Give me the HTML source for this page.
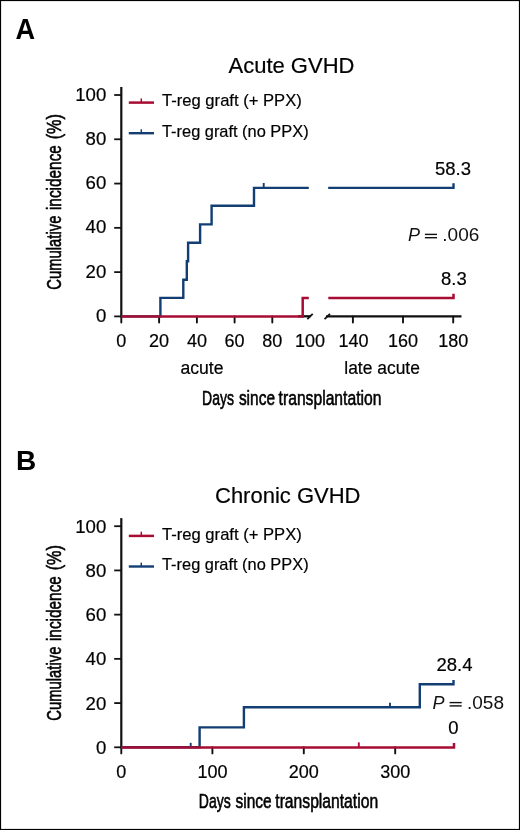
<!DOCTYPE html>
<html><head><meta charset="utf-8"><style>
html,body{margin:0;padding:0;background:#fff;}
body{width:520px;height:830px;overflow:hidden;}
svg{display:block;font-family:"Liberation Sans", sans-serif;will-change:transform;}
</style></head><body>
<svg width="520" height="830" viewBox="0 0 520 830">
<rect x="0.55" y="0.55" width="518.9" height="828.9" fill="none" stroke="#000" stroke-width="1.1"/>
<text x="15.6" y="39" font-size="29" font-weight="bold" fill="#000" textLength="19.6" lengthAdjust="spacingAndGlyphs">A</text>
<text x="16" y="470" font-size="28" font-weight="bold" fill="#000">B</text>
<text x="228.5" y="73" font-size="22" text-anchor="start" fill="#000" stroke="#000" stroke-width="0.2">Acute GVHD</text>
<line x1="121.3" y1="87" x2="121.3" y2="317.4" stroke="#111" stroke-width="2.2"/>
<line x1="114.2" y1="316.40" x2="121" y2="316.40" stroke="#111" stroke-width="1.8"/>
<text x="106.3" y="322.00" font-size="18.6" text-anchor="end" fill="#000" stroke="#000" stroke-width="0.2">0</text>
<line x1="114.2" y1="272.12" x2="121" y2="272.12" stroke="#111" stroke-width="1.8"/>
<text x="106.3" y="277.72" font-size="18.6" text-anchor="end" fill="#000" stroke="#000" stroke-width="0.2">20</text>
<line x1="114.2" y1="227.84" x2="121" y2="227.84" stroke="#111" stroke-width="1.8"/>
<text x="106.3" y="233.44" font-size="18.6" text-anchor="end" fill="#000" stroke="#000" stroke-width="0.2">40</text>
<line x1="114.2" y1="183.56" x2="121" y2="183.56" stroke="#111" stroke-width="1.8"/>
<text x="106.3" y="189.16" font-size="18.6" text-anchor="end" fill="#000" stroke="#000" stroke-width="0.2">60</text>
<line x1="114.2" y1="139.28" x2="121" y2="139.28" stroke="#111" stroke-width="1.8"/>
<text x="106.3" y="144.88" font-size="18.6" text-anchor="end" fill="#000" stroke="#000" stroke-width="0.2">80</text>
<line x1="114.2" y1="95.00" x2="121" y2="95.00" stroke="#111" stroke-width="1.8"/>
<text x="106.3" y="100.60" font-size="18.6" text-anchor="end" fill="#000" stroke="#000" stroke-width="0.2">100</text>
<g transform="translate(61.2,0.00) rotate(-90)" font-size="20.8" fill="#000" stroke="#000" stroke-width="0.6">
<text x="-289.70" y="0" textLength="74.10" lengthAdjust="spacingAndGlyphs">Cumulative</text>
<text x="-210.10" y="0" textLength="65.00" lengthAdjust="spacingAndGlyphs">incidence</text>
<text x="-139.30" y="0" textLength="25.20" lengthAdjust="spacingAndGlyphs">(%)</text>
</g>
<line x1="298" y1="316.3" x2="310.5" y2="316.3" stroke="#111" stroke-width="2.3"/>
<line x1="326" y1="316.3" x2="461.5" y2="316.3" stroke="#111" stroke-width="2.3"/>
<line x1="307.3" y1="319.2" x2="312.7" y2="313.8" stroke="#111" stroke-width="1.8"/>
<line x1="324.6" y1="319.2" x2="330" y2="313.8" stroke="#111" stroke-width="1.8"/>
<line x1="121.3" y1="316.4" x2="121.3" y2="322.6" stroke="#111" stroke-width="1.9" stroke-linecap="round"/>
<line x1="159.1" y1="316.4" x2="159.1" y2="322.6" stroke="#111" stroke-width="1.9" stroke-linecap="round"/>
<line x1="196.9" y1="316.4" x2="196.9" y2="322.6" stroke="#111" stroke-width="1.9" stroke-linecap="round"/>
<line x1="234.6" y1="316.4" x2="234.6" y2="322.6" stroke="#111" stroke-width="1.9" stroke-linecap="round"/>
<line x1="272.3" y1="316.4" x2="272.3" y2="322.6" stroke="#111" stroke-width="1.9" stroke-linecap="round"/>
<line x1="352.9" y1="316.4" x2="352.9" y2="322.6" stroke="#111" stroke-width="1.9" stroke-linecap="round"/>
<line x1="403.0" y1="316.4" x2="403.0" y2="322.6" stroke="#111" stroke-width="1.9" stroke-linecap="round"/>
<line x1="453.2" y1="316.4" x2="453.2" y2="322.6" stroke="#111" stroke-width="1.9" stroke-linecap="round"/>
<text x="121.3" y="346.6" font-size="18" text-anchor="middle" fill="#000" stroke="#000" stroke-width="0.2">0</text>
<text x="159.1" y="346.6" font-size="18" text-anchor="middle" fill="#000" stroke="#000" stroke-width="0.2">20</text>
<text x="196.9" y="346.6" font-size="18" text-anchor="middle" fill="#000" stroke="#000" stroke-width="0.2">40</text>
<text x="234.6" y="346.6" font-size="18" text-anchor="middle" fill="#000" stroke="#000" stroke-width="0.2">60</text>
<text x="272.3" y="346.6" font-size="18" text-anchor="middle" fill="#000" stroke="#000" stroke-width="0.2">80</text>
<text x="310" y="346.6" font-size="18" text-anchor="middle" fill="#000" stroke="#000" stroke-width="0.2">100</text>
<text x="353.4" y="346.6" font-size="18" text-anchor="middle" fill="#000" stroke="#000" stroke-width="0.2">140</text>
<text x="403.0" y="346.6" font-size="18" text-anchor="middle" fill="#000" stroke="#000" stroke-width="0.2">160</text>
<text x="453.2" y="346.6" font-size="18" text-anchor="middle" fill="#000" stroke="#000" stroke-width="0.2">180</text>
<text x="180.5" y="374.3" font-size="17.6" text-anchor="start" fill="#000" stroke="#000" stroke-width="0.2">acute</text>
<text x="344.3" y="374.3" font-size="17.6" text-anchor="start" fill="#000" textLength="75.6" lengthAdjust="spacingAndGlyphs" stroke="#000" stroke-width="0.2">late acute</text>
<g font-size="20.5" fill="#000" stroke="#000" stroke-width="0.6">
<text x="202.10" y="404.5" textLength="31.90" lengthAdjust="spacingAndGlyphs">Days</text>
<text x="238.90" y="404.5" textLength="36.10" lengthAdjust="spacingAndGlyphs">since</text>
<text x="278.60" y="404.5" textLength="102.80" lengthAdjust="spacingAndGlyphs">transplantation</text>
</g>
<path d="M121.3,316.4 H160.4 V297.9 H183.3 V279.7 H186.8 V261.2 H188.1 V242.8 H200.1 V224.4 H211.6 V205.8 H254 V187.9 H308.8" fill="none" stroke="#123E73" stroke-width="2.4"/>
<line x1="263.7" y1="187.9" x2="263.7" y2="183" stroke="#123E73" stroke-width="1.9"/>
<path d="M328.2,187.9 H453.5 V183.3" fill="none" stroke="#123E73" stroke-width="2.4"/>
<path d="M121.3,316.4 H302.7 V298.1 H308.8" fill="none" stroke="#A80C33" stroke-width="2.5"/>
<path d="M328.3,298.1 H453.5 V293.8" fill="none" stroke="#A80C33" stroke-width="2.5"/>
<text x="435" y="175.4" font-size="18.5" text-anchor="start" fill="#000" stroke="#000" stroke-width="0.2">58.3</text>
<text x="441" y="285.4" font-size="18.5" text-anchor="start" fill="#000" stroke="#000" stroke-width="0.2">8.3</text>
<text x="407.9" y="241.0" font-size="18" font-style="italic" fill="#111">P</text>
<rect x="424.9" y="233.7" width="12.1" height="1.4" fill="#111"/>
<rect x="424.9" y="237.0" width="12.1" height="1.4" fill="#111"/>
<text x="442.3" y="241.0" font-size="18" fill="#111" textLength="37" lengthAdjust="spacingAndGlyphs">.006</text>
<text x="215" y="502.8" font-size="22" text-anchor="start" fill="#000" stroke="#000" stroke-width="0.2">Chronic GVHD</text>
<line x1="121.3" y1="518.1" x2="121.3" y2="748.3" stroke="#111" stroke-width="2.2"/>
<line x1="114.2" y1="747.30" x2="121" y2="747.30" stroke="#111" stroke-width="1.8"/>
<text x="106.3" y="753.90" font-size="18.6" text-anchor="end" fill="#000" stroke="#000" stroke-width="0.2">0</text>
<line x1="114.2" y1="703.08" x2="121" y2="703.08" stroke="#111" stroke-width="1.8"/>
<text x="106.3" y="709.68" font-size="18.6" text-anchor="end" fill="#000" stroke="#000" stroke-width="0.2">20</text>
<line x1="114.2" y1="658.86" x2="121" y2="658.86" stroke="#111" stroke-width="1.8"/>
<text x="106.3" y="665.46" font-size="18.6" text-anchor="end" fill="#000" stroke="#000" stroke-width="0.2">40</text>
<line x1="114.2" y1="614.64" x2="121" y2="614.64" stroke="#111" stroke-width="1.8"/>
<text x="106.3" y="621.24" font-size="18.6" text-anchor="end" fill="#000" stroke="#000" stroke-width="0.2">60</text>
<line x1="114.2" y1="570.42" x2="121" y2="570.42" stroke="#111" stroke-width="1.8"/>
<text x="106.3" y="577.02" font-size="18.6" text-anchor="end" fill="#000" stroke="#000" stroke-width="0.2">80</text>
<line x1="114.2" y1="526.20" x2="121" y2="526.20" stroke="#111" stroke-width="1.8"/>
<text x="106.3" y="532.80" font-size="18.6" text-anchor="end" fill="#000" stroke="#000" stroke-width="0.2">100</text>
<g transform="translate(61.2,431.00) rotate(-90)" font-size="20.8" fill="#000" stroke="#000" stroke-width="0.6">
<text x="-289.70" y="0" textLength="74.10" lengthAdjust="spacingAndGlyphs">Cumulative</text>
<text x="-210.10" y="0" textLength="65.00" lengthAdjust="spacingAndGlyphs">incidence</text>
<text x="-139.30" y="0" textLength="25.20" lengthAdjust="spacingAndGlyphs">(%)</text>
</g>
<line x1="121.3" y1="747.3" x2="121.3" y2="753.4" stroke="#111" stroke-width="1.9" stroke-linecap="round"/>
<line x1="212.4" y1="747.3" x2="212.4" y2="753.4" stroke="#111" stroke-width="1.9" stroke-linecap="round"/>
<line x1="303.8" y1="747.3" x2="303.8" y2="753.4" stroke="#111" stroke-width="1.9" stroke-linecap="round"/>
<line x1="395.2" y1="747.3" x2="395.2" y2="753.4" stroke="#111" stroke-width="1.9" stroke-linecap="round"/>
<text x="121.3" y="777.6" font-size="18" text-anchor="middle" fill="#000" stroke="#000" stroke-width="0.2">0</text>
<text x="212.4" y="777.6" font-size="18" text-anchor="middle" fill="#000" stroke="#000" stroke-width="0.2">100</text>
<text x="303.8" y="777.6" font-size="18" text-anchor="middle" fill="#000" stroke="#000" stroke-width="0.2">200</text>
<text x="395.2" y="777.6" font-size="18" text-anchor="middle" fill="#000" stroke="#000" stroke-width="0.2">300</text>
<g font-size="20.5" fill="#000" stroke="#000" stroke-width="0.6">
<text x="198.80" y="807.5" textLength="31.90" lengthAdjust="spacingAndGlyphs">Days</text>
<text x="235.60" y="807.5" textLength="36.10" lengthAdjust="spacingAndGlyphs">since</text>
<text x="275.30" y="807.5" textLength="102.80" lengthAdjust="spacingAndGlyphs">transplantation</text>
</g>
<path d="M121.3,747.3 H199.6 V727.4 H243.9 V707.2 H419.8 V684.3 H453.5 V680" fill="none" stroke="#123E73" stroke-width="2.4"/>
<line x1="190.7" y1="747.3" x2="190.7" y2="742.8" stroke="#123E73" stroke-width="1.9"/>
<line x1="390" y1="707.2" x2="390" y2="702.8" stroke="#123E73" stroke-width="1.9"/>
<path d="M121.3,747.4 H454 V743" fill="none" stroke="#A80C33" stroke-width="2.5"/>
<line x1="358.8" y1="747.4" x2="358.8" y2="742.4" stroke="#A80C33" stroke-width="1.9"/>
<text x="436.5" y="670.8" font-size="18.5" text-anchor="start" fill="#000" stroke="#000" stroke-width="0.2">28.4</text>
<text x="448.3" y="734" font-size="18.5" text-anchor="start" fill="#000" stroke="#000" stroke-width="0.2">0</text>
<text x="432.59999999999997" y="709.2" font-size="18" font-style="italic" fill="#111">P</text>
<rect x="449.59999999999997" y="701.9000000000001" width="12.1" height="1.4" fill="#111"/>
<rect x="449.59999999999997" y="705.2" width="12.1" height="1.4" fill="#111"/>
<text x="467.0" y="709.2" font-size="18" fill="#111" textLength="37" lengthAdjust="spacingAndGlyphs">.058</text>
<line x1="128.8" y1="102.60" x2="154" y2="102.60" stroke="#A80C33" stroke-width="2.5"/>
<line x1="141.3" y1="102.60" x2="141.3" y2="98.40" stroke="#A80C33" stroke-width="1.5"/>
<text x="162.0" y="106.40" font-size="17" text-anchor="start" fill="#000" textLength="139.8" lengthAdjust="spacingAndGlyphs" stroke="#000" stroke-width="0.2">T-reg graft (+ PPX)</text>
<line x1="128.8" y1="133.20" x2="154" y2="133.20" stroke="#123E73" stroke-width="2.4"/>
<line x1="141.3" y1="133.20" x2="141.3" y2="129.30" stroke="#123E73" stroke-width="1.5"/>
<text x="162.0" y="136.80" font-size="17" text-anchor="start" fill="#000" textLength="146.6" lengthAdjust="spacingAndGlyphs" stroke="#000" stroke-width="0.2">T-reg graft (no PPX)</text>
<line x1="128.8" y1="535.90" x2="154" y2="535.90" stroke="#A80C33" stroke-width="2.5"/>
<line x1="141.3" y1="535.90" x2="141.3" y2="531.70" stroke="#A80C33" stroke-width="1.5"/>
<text x="162.0" y="539.70" font-size="17" text-anchor="start" fill="#000" textLength="139.8" lengthAdjust="spacingAndGlyphs" stroke="#000" stroke-width="0.2">T-reg graft (+ PPX)</text>
<line x1="128.8" y1="566.50" x2="154" y2="566.50" stroke="#123E73" stroke-width="2.4"/>
<line x1="141.3" y1="566.50" x2="141.3" y2="562.60" stroke="#123E73" stroke-width="1.5"/>
<text x="162.0" y="570.10" font-size="17" text-anchor="start" fill="#000" textLength="146.6" lengthAdjust="spacingAndGlyphs" stroke="#000" stroke-width="0.2">T-reg graft (no PPX)</text>
</svg>
</body></html>
